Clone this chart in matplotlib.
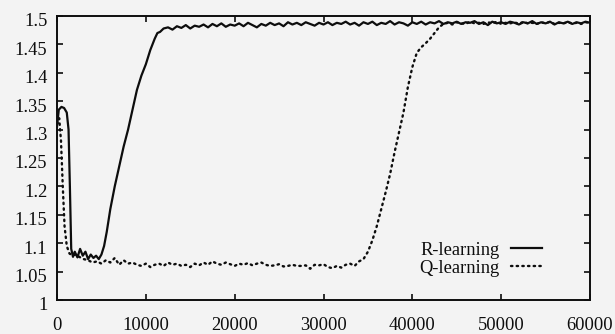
import numpy as np
import matplotlib
matplotlib.use("Agg")
import matplotlib.pyplot as plt
import matplotlib.transforms as mtransforms

plt.rcParams['font.family'] = ['Liberation Serif', 'DejaVu Serif']

# ---------------- data ----------------
x_ticks = [0, 10000, 20000, 30000, 40000, 50000, 60000]
x_tick_labels = ["0", "10000", "20000", "30000", "40000", "50000", "60000"]
y_ticks = [1.0, 1.05, 1.1, 1.15, 1.2, 1.25, 1.3, 1.35, 1.4, 1.45, 1.5]
y_tick_labels = ["1", "1.05", "1.1", "1.15", "1.2", "1.25", "1.3", "1.35", "1.4", "1.45", "1.5"]

# R-learning: initial bump, plateau, rise
r_head_x = [0, 200, 500, 800, 1100, 1300, 1450, 1600, 1800, 2000, 2300, 2600, 2900,
            3200, 3500, 3800, 4100, 4400, 4700, 5000, 5300, 5600, 6000, 6500, 7000,
            7500, 8000, 8500, 9000, 9500, 10000, 10500, 11000, 11300, 11600, 12000]
r_head_y = [1.305, 1.335, 1.340, 1.338, 1.330, 1.300, 1.200, 1.090, 1.076, 1.085, 1.075,
            1.090, 1.078, 1.085, 1.072, 1.080, 1.074, 1.078, 1.072, 1.080, 1.095, 1.120,
            1.160, 1.200, 1.235, 1.270, 1.300, 1.335, 1.370, 1.395, 1.415, 1.440, 1.460,
            1.470, 1.472, 1.478]
# R-learning steady state, every 500 steps from 12500 to 60000
r_tail_y = [1.480, 1.476, 1.482, 1.479, 1.484, 1.478, 1.483, 1.481, 1.485, 1.480,
            1.486, 1.482, 1.487, 1.481, 1.485, 1.483, 1.487, 1.482, 1.488, 1.484,
            1.480, 1.486, 1.483, 1.488, 1.484, 1.487, 1.482, 1.489, 1.485, 1.488,
            1.484, 1.489, 1.486, 1.483, 1.488, 1.485, 1.489, 1.484, 1.488, 1.486,
            1.490, 1.485, 1.488, 1.483, 1.489, 1.486, 1.490, 1.484, 1.488, 1.486,
            1.491, 1.485, 1.489, 1.487, 1.483, 1.489, 1.486, 1.490, 1.485, 1.489,
            1.487, 1.491, 1.486, 1.489, 1.487, 1.490, 1.486, 1.489, 1.488, 1.491,
            1.486, 1.489, 1.484, 1.490, 1.487, 1.489, 1.486, 1.490, 1.488, 1.485,
            1.489, 1.487, 1.491, 1.486, 1.489, 1.487, 1.490, 1.485, 1.489, 1.487,
            1.490, 1.486, 1.489, 1.487, 1.490, 1.488]

# Q-learning: initial drop
q_head_x = [0, 250, 450, 650, 850, 1100, 1400, 1700]
q_head_y = [1.310, 1.320, 1.280, 1.200, 1.130, 1.095, 1.082, 1.078]
# Q-learning plateau, every 500 steps from 2000 to 34000
q_flat_y = [1.080, 1.076, 1.072, 1.070, 1.066, 1.068, 1.064, 1.070, 1.066, 1.074,
            1.062, 1.070, 1.064, 1.066, 1.062, 1.060, 1.064, 1.058, 1.062, 1.064,
            1.060, 1.066, 1.062, 1.064, 1.060, 1.062, 1.058, 1.064, 1.061, 1.066,
            1.062, 1.068, 1.064, 1.062, 1.066, 1.063, 1.060, 1.064, 1.062, 1.065,
            1.061, 1.064, 1.066, 1.062, 1.060, 1.061, 1.063, 1.059, 1.060, 1.062,
            1.060, 1.060, 1.061, 1.055, 1.062, 1.061, 1.063, 1.058, 1.056, 1.060,
            1.057, 1.062, 1.064, 1.060, 1.068]
# Q-learning rise, every 500 steps from 34500 to 43000
q_rise_y = [1.072, 1.085, 1.105, 1.130, 1.160, 1.190, 1.222, 1.260, 1.295, 1.330,
            1.375, 1.410, 1.435, 1.445, 1.452, 1.460, 1.470, 1.480]
# Q-learning steady state, every 500 steps from 43500 to 60000
q_tail_y = [1.486, 1.488, 1.485, 1.489, 1.487, 1.486, 1.490, 1.487, 1.488, 1.486,
            1.489, 1.487, 1.490, 1.486, 1.488, 1.487, 1.489, 1.486, 1.490, 1.487,
            1.488, 1.486, 1.489, 1.487, 1.490, 1.486, 1.488, 1.487, 1.489, 1.487,
            1.488, 1.486, 1.489, 1.488]

r_x = list(r_head_x) + list(np.arange(12500, 60001, 500))
r_y = r_head_y + r_tail_y
q_x = list(q_head_x) + list(np.arange(2000, 60001, 500))
q_y = q_head_y + q_flat_y + q_rise_y + q_tail_y

# ---------------- plot ----------------
bg = '#f3f3f3'
ink = '#0d0d0d'
fs = 13.3
fig = plt.figure(figsize=(6.15, 3.34), dpi=100, facecolor=bg)
ax = fig.add_axes([57/615, 1 - 300/334, (590-57)/615, (300-16)/334])
ax.set_facecolor(bg)

ax.plot(r_x, r_y, color=ink, lw=1.6, solid_joinstyle='round', label='R-learning')
ax.plot(q_x, q_y, color=ink, lw=1.7, linestyle=(0, (0.6, 1.8)),
        dash_capstyle='round', label='Q-learning')

ax.set_xlim(0, 60000)
ax.set_ylim(1.0, 1.5)
ax.set_xticks(x_ticks)
ax.set_xticklabels(x_tick_labels)
ax.set_yticks(y_ticks)
ax.set_yticklabels(y_tick_labels)
ax.tick_params(direction='in', top=True, right=True, length=4.5, width=1.2,
               labelsize=fs, colors=ink)
ax.tick_params(axis='x', pad=12)
ax.tick_params(axis='y', pad=7)
for s in ax.spines.values():
    s.set_linewidth(1.4)
    s.set_color(ink)

# gnuplot-style labels sit slightly below their ticks
shift = mtransforms.ScaledTranslation(0, -4/100, fig.dpi_scale_trans)
for lbl in ax.get_yticklabels():
    lbl.set_transform(lbl.get_transform() + shift)

leg = ax.legend(loc='center right', bbox_to_anchor=(0.928, 0.143), frameon=False,
                markerfirst=False, handlelength=1.7, handletextpad=0.6,
                labelspacing=0.05, borderpad=0, fontsize=fs)
for t in leg.get_texts():
    t.set_color(ink)

fig.savefig('out.png', dpi=100, facecolor=bg)
